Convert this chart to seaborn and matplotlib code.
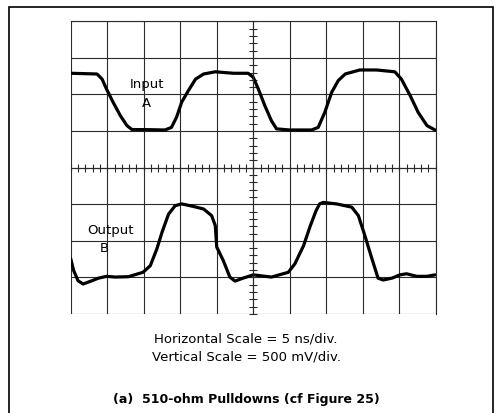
"""
Oscilloscope capture: input A / output B with 510-ohm pulldowns.
Traces read off the scope photo (5 ns/div, 500 mV/div).
"""

import matplotlib
matplotlib.use("Agg")
import matplotlib.pyplot as plt
from matplotlib.patches import Rectangle
from matplotlib.ticker import MultipleLocator
import seaborn as sns

# ---- data (time in ns, level in volts, 0 V = screen centre) ----
input_t = [0, 3.6, 4.3, 4.9, 5.8, 6.8, 7.7, 8.4, 10.2, 12.9, 13.8, 14.5,
           15.2, 16.1, 17.1, 18.2, 19.8, 22.3, 24.3, 25.0, 25.7, 26.6, 27.5,
           28.2, 30.0, 33.0, 33.9, 34.8, 35.75, 36.65, 37.6, 39.6, 41.9, 44.4,
           45.3, 46.5, 47.6, 48.8, 49.9]
input_v = [1.29, 1.28, 1.21, 1.075, 0.895, 0.71, 0.575, 0.52, 0.52, 0.515,
           0.55, 0.69, 0.895, 1.05, 1.21, 1.28, 1.31, 1.29, 1.29, 1.235,
           1.075, 0.845, 0.64, 0.53, 0.515, 0.515, 0.55, 0.755, 1.03, 1.19,
           1.28, 1.335, 1.335, 1.31, 1.21, 0.985, 0.755, 0.575, 0.515]

output_t = [0, 0.4, 1.0, 1.7, 2.9, 3.8, 4.9, 6.1, 7.9, 9.9, 10.9, 11.8, 12.5,
            13.4, 14.3, 15.2, 16.8, 18.2, 19.3, 19.8, 20.0, 20.9, 21.8, 22.5,
            23.6, 25.0, 27.5, 29.8, 30.7, 31.9, 32.8, 33.6, 34.1, 34.6, 36.4,
            38.5, 39.4, 40.3, 41.2, 42.1, 42.8, 44.0, 45.1, 46.0, 47.4, 48.8,
            49.9]
output_v = [-1.245, -1.405, -1.545, -1.59, -1.545, -1.51, -1.485, -1.495,
            -1.49, -1.43, -1.34, -1.11, -0.885, -0.635, -0.52, -0.495, -0.53,
            -0.565, -0.655, -0.79, -1.085, -1.27, -1.495, -1.55, -1.51,
            -1.465, -1.495, -1.43, -1.315, -1.065, -0.8, -0.59, -0.495,
            -0.475, -0.495, -0.54, -0.655, -0.93, -1.225, -1.51, -1.535,
            -1.51, -1.465, -1.45, -1.485, -1.485, -1.465]

h_scale = "Horizontal Scale = 5 ns/div."
v_scale = "Vertical Scale = 500 mV/div."
caption = "(a)  510-ohm Pulldowns (cf Figure 25)"

sns.set_style("white")
plt.rcParams["font.family"] = ["DejaVu Sans"]
plt.rcParams["text.color"] = "black"

fig = plt.figure(figsize=(4.97, 4.14), dpi=100)
ax = fig.add_axes([0.1423, 0.2391, 0.7344, 0.707])

trace_kw = dict(color="black", linewidth=2.3, sort=False, estimator=None)
sns.lineplot(x=input_t, y=input_v, ax=ax, **trace_kw)
sns.lineplot(x=output_t, y=output_v, ax=ax, **trace_kw)
for line in ax.get_lines():
    line.set_solid_joinstyle("round")
    line.set_solid_capstyle("round")

ax.set_xlim(0, 50)
ax.set_ylim(-2, 2)

# graticule: one line per division, centre cross carries the fine ticks
ax.xaxis.set_major_locator(MultipleLocator(5))
ax.yaxis.set_major_locator(MultipleLocator(0.5))
ax.xaxis.set_minor_locator(MultipleLocator(1))
ax.yaxis.set_minor_locator(MultipleLocator(0.1))
ax.grid(True, which="major", color="#2a2a2a", linewidth=0.8)
for gl in ax.get_xgridlines() + ax.get_ygridlines():
    gl.set_clip_on(False)

ax.spines["left"].set_position(("data", 25))
ax.spines["bottom"].set_position(("data", 0))
for side in ["left", "bottom", "top", "right"]:
    ax.spines[side].set_color("#2a2a2a")
    ax.spines[side].set_linewidth(0.8)
ax.tick_params(which="both", direction="inout", left=True, bottom=True,
               top=False, right=False, labelleft=False, labelbottom=False,
               color="#2a2a2a", width=0.8, length=6)
ax.set_xlabel("")
ax.set_ylabel("")

# trace labels
lbl = dict(ha="center", va="center", fontsize=9.5)
ax.text(10.4, 1.155, "Input", **lbl)
ax.text(10.4, 0.885, "A", **lbl)
ax.text(5.4, -0.85, "Output", **lbl)
ax.text(4.6, -1.095, "B", **lbl)

# page frame and captions
fig.patches.append(Rectangle((9 / 497, -0.05), 484 / 497, 0.05 + (414 - 7.5) / 414,
                             transform=fig.transFigure, fill=False,
                             edgecolor="black", linewidth=1.2))
fig.text(0.495, 0.181, h_scale, ha="center", va="center", fontsize=9.5)
fig.text(0.495, 0.138, v_scale, ha="center", va="center", fontsize=9.5)
fig.text(0.495, 0.036, caption, ha="center", va="center", fontsize=9,
         fontweight="bold")

plt.savefig("out.png", dpi=100)
plt.close()
